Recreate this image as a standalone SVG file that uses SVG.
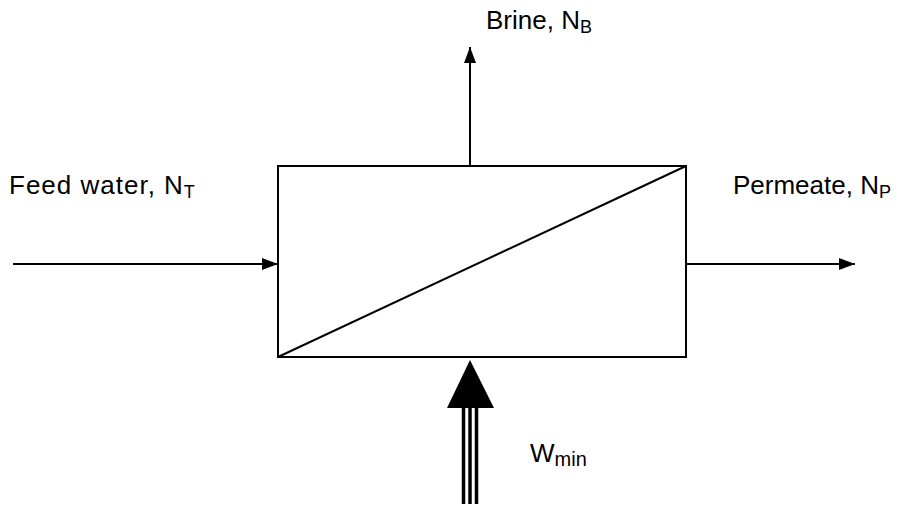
<svg xmlns="http://www.w3.org/2000/svg" width="908" height="509" viewBox="0 0 908 509">
<style>
.ln{stroke:#000;stroke-width:2;fill:none}
.t{font-family:"Liberation Sans",Arial,sans-serif;font-size:26px;fill:#000}
.s{font-size:18px}
.w{stroke:#000;stroke-width:3.5}
</style>
<defs>
<marker id="ah" markerWidth="8" markerHeight="6" refX="8" refY="3" orient="auto" markerUnits="strokeWidth">
<path d="M0,0 L8,3 L0,6 Z" fill="#000"/>
</marker>
</defs>
<rect width="908" height="509" fill="#fff"/>
<g id="unit">
<rect x="278" y="166" width="408" height="191" class="ln"/>
<line x1="278" y1="357" x2="686" y2="166" class="ln"/>
</g>
<g id="connectors">
<line x1="13" y1="264" x2="278" y2="264" class="ln" marker-end="url(#ah)"/>
<line x1="686" y1="264" x2="855" y2="264" class="ln" marker-end="url(#ah)"/>
<line x1="470" y1="166" x2="470" y2="47" class="ln" marker-end="url(#ah)"/>
<g id="work">
<line x1="463.5" y1="405" x2="463.5" y2="504" class="w"/>
<line x1="470" y1="405" x2="470" y2="504" class="w"/>
<line x1="476.5" y1="405" x2="476.5" y2="504" class="w"/>
<path d="M447,408 L470,360 L494,408 Z" fill="#000"/>
</g>
</g>
<g id="label-feed"><text class="t" x="9" y="194" letter-spacing="1">Feed water, N<tspan class="s" dy="4">T</tspan></text></g>
<g id="label-permeate"><text class="t" x="733" y="194">Permeate, N<tspan class="s" dy="4">P</tspan></text></g>
<g id="label-brine"><text class="t" x="486" y="29">Brine, N<tspan class="s" dy="4">B</tspan></text></g>
<g id="label-work"><text class="t" x="530" y="462">W<tspan class="s" dy="4" style="font-size:20px">min</tspan></text></g>
</svg>
